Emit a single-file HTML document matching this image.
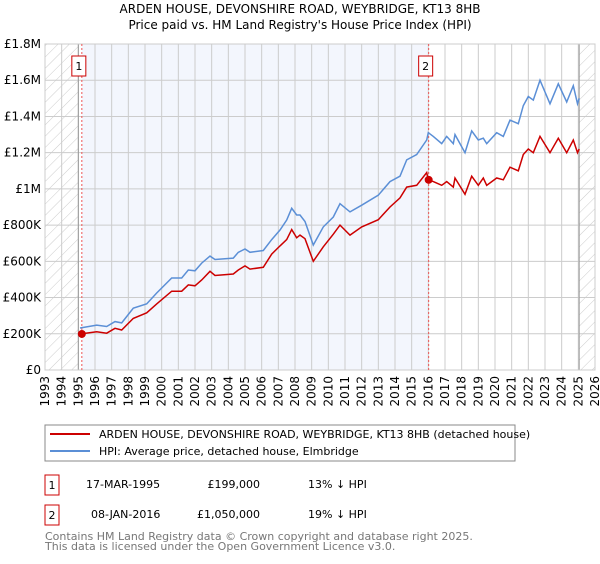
<!DOCTYPE html>
<html><head><meta charset="utf-8"><style>
body{margin:0;background:#fff;width:600px;height:560px;overflow:hidden;font-family:"DejaVu Sans","Liberation Sans",sans-serif}
svg text{font-family:"DejaVu Sans","Liberation Sans",sans-serif}
</style></head><body>
<svg id="c" width="600" height="560">
<defs><pattern id="hatch" width="8" height="8" patternUnits="userSpaceOnUse" patternTransform="rotate(45)"><line x1="0" y1="0" x2="0" y2="8" stroke="#ccc" stroke-width="1"/></pattern></defs>
<text x="300" y="13" text-anchor="middle" font-size="12">ARDEN HOUSE, DEVONSHIRE ROAD, WEYBRIDGE, KT13 8HB</text>
<text x="300" y="29" text-anchor="middle" font-size="12">Price paid vs. HM Land Registry's House Price Index (HPI)</text>
<g id="plot"></g>
<rect x="45" y="425" width="470" height="36" fill="#fff" stroke="#888"/>
<line x1="50" y1="434" x2="90" y2="434" stroke="#cc0000" stroke-width="2"/>
<text x="99" y="438" font-size="11">ARDEN HOUSE, DEVONSHIRE ROAD, WEYBRIDGE, KT13 8HB (detached house)</text>
<line x1="50" y1="451" x2="90" y2="451" stroke="#5b8fd6" stroke-width="2"/>
<text x="99" y="455" font-size="11">HPI: Average price, detached house, Elmbridge</text>
<g font-size="11">
<rect x="45" y="475" width="14" height="20" fill="none" stroke="#c00"/><text x="52" y="489" text-anchor="middle">1</text>
<text x="86" y="488">17-MAR-1995</text><text x="260" y="488" text-anchor="end">£199,000</text><text x="308" y="488">13% ↓ HPI</text>
<rect x="45" y="505" width="14" height="20" fill="none" stroke="#c00"/><text x="52" y="519" text-anchor="middle">2</text>
<text x="91" y="518">08-JAN-2016</text><text x="260" y="518" text-anchor="end">£1,050,000</text><text x="308" y="518">19% ↓ HPI</text>
</g>
<text x="45" y="540" font-size="11" fill="#777">Contains HM Land Registry data © Crown copyright and database right 2025.</text>
<text x="45" y="550" font-size="11" fill="#777">This data is licensed under the Open Government Licence v3.0.</text>
</svg>
<script>
const yTicks=[0,200000,400000,600000,800000,1000000,1200000,1400000,1600000,1800000];
const yTickLabels=["£0","£200K","£400K","£600K","£800K","£1M","£1.2M","£1.4M","£1.6M","£1.8M"];
const years=[1993,1994,1995,1996,1997,1998,1999,2000,2001,2002,2003,2004,2005,2006,2007,2008,2009,2010,2011,2012,2013,2014,2015,2016,2017,2018,2019,2020,2021,2022,2023,2024,2025,2026];
const seriesT=[1995.1,1996.1,1996.7,1997.2,1997.6,1998.3,1999.1,1999.7,2000.6,2001.2,2001.6,2002.0,2002.4,2002.9,2003.2,2004.3,2004.6,2005.0,2005.3,2006.1,2006.6,2007.1,2007.5,2007.8,2008.1,2008.3,2008.6,2009.1,2009.7,2010.3,2010.7,2011.3,2012.0,2013.0,2013.7,2014.3,2014.7,2015.3,2015.9,2016.0,2016.3,2016.8,2017.1,2017.5,2017.6,2018.2,2018.6,2019.0,2019.3,2019.5,2020.1,2020.5,2020.9,2021.4,2021.7,2022.0,2022.3,2022.7,2023.3,2023.8,2024.3,2024.7,2024.95,2025.05];
const hpiV=[232000,248000,240000,267000,260000,342000,365000,425000,508000,508000,552000,548000,590000,629000,610000,618000,650000,668000,650000,660000,720000,773000,828000,893000,856000,856000,820000,690000,790000,845000,918000,873000,910000,965000,1040000,1070000,1160000,1190000,1270000,1310000,1290000,1250000,1290000,1250000,1300000,1200000,1320000,1270000,1280000,1250000,1310000,1290000,1380000,1360000,1460000,1510000,1490000,1600000,1470000,1580000,1480000,1570000,1470000,1500000];
const priceV=[199000,211000,203000,230000,221000,285000,316000,365000,435000,435000,470000,465000,497000,545000,522000,530000,552000,575000,557000,567000,640000,685000,720000,775000,730000,745000,725000,600000,680000,750000,800000,745000,790000,830000,900000,950000,1010000,1020000,1090000,1050000,1040000,1020000,1040000,1010000,1060000,970000,1070000,1020000,1060000,1020000,1060000,1050000,1120000,1100000,1190000,1220000,1200000,1290000,1200000,1280000,1200000,1270000,1200000,1220000];
const sales=[[1995.21,199000],[2016.02,1050000]];
const X0=45,X1=595,Y0=370,Y1=44;
const xs=t=>X0+(t-1993)/(2026-1993)*(X1-X0);
const ys=v=>Y0-v/1800000*(Y0-Y1);
const NS="http://www.w3.org/2000/svg";
const g=document.getElementById('plot');
function mk(tag,a,parent){const e=document.createElementNS(NS,tag);for(const k in a)e.setAttribute(k,a[k]);(parent||g).appendChild(e);return e;}
let e;
e=mk('rect',{x:xs(sales[0][0]),y:Y1,width:xs(sales[1][0])-xs(sales[0][0]),height:Y0-Y1,fill:'#f3f6fd'});


e=mk('rect',{x:X0,y:Y1,width:xs(1995)-X0,height:Y0-Y1,fill:'url(#hatch)'});


e=mk('rect',{x:xs(2025.05),y:Y1,width:X1-xs(2025.05),height:Y0-Y1,fill:'url(#hatch)'});


yTicks.forEach((v,i)=>{
 e=mk('line',{x1:X0,x2:X1,y1:ys(v),y2:ys(v),stroke:'#ccc'});
 
 
 e=mk('text',{x:X0-4,y:ys(v)+4,'text-anchor':'end','font-size':12});e.textContent=yTickLabels[i];
 
 
});
years.forEach(yr=>{
 e=mk('line',{x1:xs(yr),x2:xs(yr),y1:Y1,y2:Y0,stroke:'#ccc'});
 
 
 e=mk('text',{x:0,y:0,'text-anchor':'end','font-size':12,transform:`translate(${xs(yr)+4},${Y0+6}) rotate(-90)`});e.textContent=yr;
 
 
});
e=mk('line',{x1:xs(1995),x2:xs(1995),y1:Y1,y2:Y0,stroke:'#999'});


e=mk('line',{x1:xs(2025.05),x2:xs(2025.05),y1:Y1,y2:Y0,stroke:'#999'});


e=mk('rect',{x:X0,y:Y1,width:X1-X0,height:Y0-Y1,fill:'none',stroke:'#ccc'});


sales.forEach((s,i)=>{
 e=mk('line',{x1:xs(s[0]),x2:xs(s[0]),y1:Y1,y2:Y0,stroke:'#e55','stroke-dasharray':'2,2'});
 
 
 e=mk('rect',{x:xs(s[0])-10,y:56,width:14,height:20,fill:'#fff',stroke:'#c00'});
 
 
 e=mk('text',{x:xs(s[0])-3,y:70,'text-anchor':'middle','font-size':11});e.textContent=String(i+1);
 
 
});
const pts=v=>seriesT.map((t,i)=>xs(t).toFixed(1)+','+ys(v[i]).toFixed(1)).join(' ');
e=mk('polyline',{points:pts(hpiV),fill:'none',stroke:'#5b8fd6','stroke-width':1.5});


e=mk('polyline',{points:pts(priceV),fill:'none',stroke:'#cc0000','stroke-width':1.5});


sales.forEach(s=>{
 e=mk('circle',{cx:xs(s[0]),cy:ys(s[1]),r:4,fill:'#cc0000'});
 
 
});
</script>
</body></html>
